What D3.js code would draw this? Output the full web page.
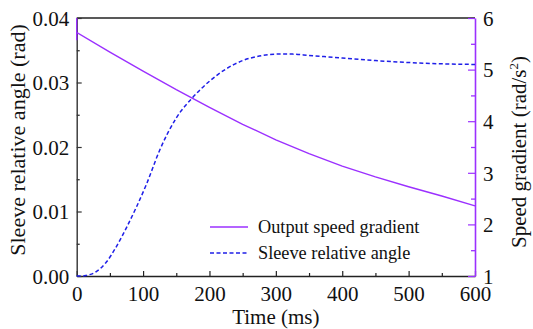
<!DOCTYPE html>
<html><head><meta charset="utf-8">
<script src="https://cdn.jsdelivr.net/npm/d3@7"></script>
<style>body{margin:0;background:#fff}svg{display:block}</style>
</head><body><svg id="c" width="533" height="329"></svg>
<script>
// Data
const angleTime = [0,10,15,30,45,60,75,90,105,125,150,175,200,225,250,275,300,325,350,400,450,500,550,600];
const angleVal  = [0,0,0.0001,0.0007,0.0022,0.0046,0.0075,0.0107,0.0142,0.0195,0.0245,0.0277,0.0302,0.0321,0.0334,0.0341,0.0344,0.0344,0.0342,0.0338,0.0334,0.0331,0.0329,0.0328];
const gradTime = [0,0,0,50,100,150,200,250,300,350,400,450,500,550,600];
const gradVal  = [6.0,5.57,5.72,5.34,4.97,4.61,4.27,3.94,3.64,3.37,3.13,2.92,2.73,2.55,2.36];
const xTicks = [0,100,200,300,400,500,600];
const yLeftTicks = [0,0.01,0.02,0.03,0.04];
const yRightTicks = [1,2,3,4,5,6];
const seriesNames = ["Output speed gradient","Sleeve relative angle"];

const FONT = "Liberation Serif, Times New Roman, serif";
const purple = "#9B30FF", blue = "#1F1FE8";
const svg = d3.select("#c");
const m = {l:76.7, r:475, t:18, b:276};
const x = d3.scaleLinear().domain([0,600]).range([m.l,m.r]);
const yl = d3.scaleLinear().domain([0,0.04]).range([m.b,m.t]);
const yr = d3.scaleLinear().domain([1,6]).range([m.b,m.t]);

svg.append("line").attr("x1",m.l).attr("x2",m.r).attr("y1",m.t).attr("y2",m.t).attr("stroke","#222").attr("stroke-width",1.3);

function styleAxis(g,color){
  g.attr("font-family",FONT).attr("font-size",21);
  g.select(".domain").attr("stroke",color).attr("stroke-width",1.4);
  g.selectAll(".tick line").attr("stroke",color).attr("stroke-width",1.2);
  g.selectAll(".tick text").attr("fill","#111");
}
const xMinor = d3.range(50,600,100);
const gxm = svg.append("g").attr("transform",`translate(0,${m.b})`)
  .call(d3.axisBottom(x).tickValues(xMinor).tickSize(-3).tickFormat(""));
gxm.select(".domain").remove(); gxm.selectAll(".tick line").attr("stroke","#222").attr("stroke-width",1.2);
const gx = svg.append("g").attr("transform",`translate(0,${m.b})`)
  .call(d3.axisBottom(x).tickValues(xTicks).tickSize(-5).tickSizeOuter(0).tickPadding(10).tickFormat(d3.format("d")));
styleAxis(gx,"#222");
gx.selectAll(".tick text").attr("dy","0.71em");

const ylMinor = [0.005,0.015,0.025,0.035];
const glm = svg.append("g").attr("transform",`translate(${m.l},0)`)
  .call(d3.axisLeft(yl).tickValues(ylMinor).tickSize(-3).tickFormat(""));
glm.select(".domain").remove(); glm.selectAll(".tick line").attr("stroke","#222").attr("stroke-width",1.2);
const gl = svg.append("g").attr("transform",`translate(${m.l},0)`)
  .call(d3.axisLeft(yl).tickValues(yLeftTicks).tickSize(-5).tickSizeOuter(0).tickPadding(7.5).tickFormat(d3.format(".2f")));
styleAxis(gl,"#333");
gl.selectAll(".tick text").attr("dy","0.35em");

const yrMinor = [1.5,2.5,3.5,4.5,5.5];
const grm = svg.append("g").attr("transform",`translate(${m.r},0)`)
  .call(d3.axisRight(yr).tickValues(yrMinor).tickSize(-4).tickFormat(""));
grm.select(".domain").remove(); grm.selectAll(".tick line").attr("stroke",purple).attr("stroke-width",1.3);
const gr = svg.append("g").attr("transform",`translate(${m.r},0)`)
  .call(d3.axisRight(yr).tickValues(yRightTicks).tickSize(-7).tickSizeOuter(0).tickPadding(8).tickFormat(d3.format("d")));
styleAxis(gr,purple);
gr.select(".domain").attr("stroke-width",1.6);
gr.selectAll(".tick text").attr("dy","0.35em");

const angleData = angleTime.map((t,i)=>[t,angleVal[i]]);
const gradData = gradTime.map((t,i)=>[t,gradVal[i]]);
svg.append("path").datum(gradData)
  .attr("d",d3.line().x(d=>x(d[0])).y(d=>yr(d[1])).curve(d3.curveLinear))
  .attr("fill","none").attr("stroke",purple).attr("stroke-width",1.4);
svg.append("path").datum(angleData)
  .attr("d",d3.line().x(d=>x(d[0])).y(d=>yl(d[1])).curve(d3.curveMonotoneX))
  .attr("fill","none").attr("stroke",blue).attr("stroke-width",1.5).attr("stroke-dasharray","4,2.5");

const T = (sel)=>sel.attr("font-family",FONT).attr("fill","#111");
T(svg.append("text")).attr("x",(m.l+m.r)/2).attr("y",324).attr("text-anchor","middle").attr("font-size",21).text("Time (ms)");
T(svg.append("text")).attr("transform",`translate(24.5,140) rotate(-90)`).attr("text-anchor","middle").attr("font-size",22).text("Sleeve relative angle (rad)");
const rt = T(svg.append("text")).attr("transform",`translate(526,152) rotate(-90)`).attr("text-anchor","middle").attr("font-size",21);
rt.append("tspan").text("Speed gradient (rad/s");
rt.append("tspan").attr("dy",-8).attr("font-size",13).text("2");
rt.append("tspan").attr("dy",8).text(")");

const lg = svg.append("g");
lg.append("line").attr("x1",210).attr("x2",248).attr("y1",227).attr("y2",227).attr("stroke",purple).attr("stroke-width",1.4);
T(lg.append("text")).attr("x",258).attr("y",233).attr("font-size",18.3).text(seriesNames[0]);
lg.append("line").attr("x1",210).attr("x2",248).attr("y1",253).attr("y2",253).attr("stroke",blue).attr("stroke-width",1.5).attr("stroke-dasharray","4,2.5");
T(lg.append("text")).attr("x",258).attr("y",259).attr("font-size",18.3).text(seriesNames[1]);
</script></body></html>
